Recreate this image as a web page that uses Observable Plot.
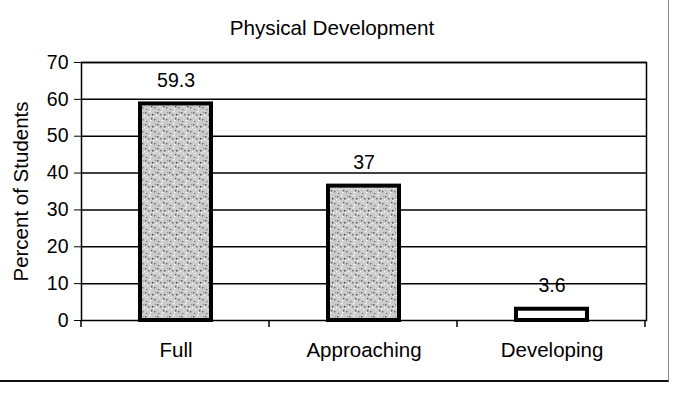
<!DOCTYPE html>
<html><head><meta charset="utf-8">
<script src="https://cdn.jsdelivr.net/npm/d3@7"></script>
<script src="https://cdn.jsdelivr.net/npm/@observablehq/plot@0.6"></script>
<style>
body{margin:0;background:#fff;font-family:"Liberation Sans",Arial,sans-serif;}
#wrap{position:relative;width:668px;height:380px;border-right:1px solid #888;border-bottom:2px solid #111;}
#title{height:50px;line-height:56px;text-align:center;font-size:20.7px;color:#000;padding-right:4px;}
#chart svg text{fill:#000;}
</style></head>
<body><div id="wrap"><div id="title">Physical Development</div><div id="chart"></div></div>
<script>
const categories = ["Full", "Approaching", "Developing"];
const values = [59.3, 37, 3.6];
const yTicks = [0, 10, 20, 30, 40, 50, 60, 70];
const data = categories.map((c, i) => ({category: c, value: values[i]}));

const plot = Plot.plot({
  width: 668, height: 330,
  marginTop: 12, marginBottom: 60, marginLeft: 81, marginRight: 22,
  style: {fontFamily: "'Liberation Sans', Arial, sans-serif", fontSize: "19px", color: "#000", background: "#fff"},
  x: {domain: categories, paddingInner: 0.6, paddingOuter: 0.3, label: null},
  y: {domain: [0, 70], ticks: yTicks, label: "Percent of Students"},
  marks: [
    Plot.ruleY(yTicks.filter(t => t > 0), {stroke: "#000", strokeWidth: 1.5}),
    Plot.barY(data, {x: "category", y: "value",
      fill: d => d.category === "Developing" ? "white" : "url(#stipple)",
      stroke: "#000", strokeWidth: 4, insetTop: 2, insetLeft: 2, insetRight: 2}),
    Plot.text(data, {x: "category", y: "value", text: d => String(d.value), dy: -21, fontSize: 19.5, fill: "#000"}),
    Plot.frame({stroke: "#000", strokeWidth: 1.5}),
    Plot.axisY({ticks: yTicks, tickSize: 7, tickFormat: () => "", label: "Percent of Students",
      labelAnchor: "center", labelOffset: 68, labelArrow: "none", fontSize: 20.5}),
    Plot.text(yTicks, {y: d => d, text: d => String(d), frameAnchor: "left", textAnchor: "end",
      dx: -13, fontSize: 19.5, fill: "#000"}),
    Plot.axisX({tickSize: 0, tickPadding: 22, fontSize: 20.5, label: null})
  ]
});

const svg = d3.select(plot);

// stipple pattern
const defs = svg.insert("defs", ":first-child");
const pat = defs.append("pattern").attr("id", "stipple").attr("patternUnits", "userSpaceOnUse")
  .attr("width", 12).attr("height", 12);
pat.append("rect").attr("width", 12).attr("height", 12).attr("fill", "#cbcbcb");
[[1,2,"#555"],[5,1,"#fff"],[8,4,"#444"],[3,7,"#f2f2f2"],[10,9,"#666"],[6,10,"#fff"],[2,11,"#777"],[9,6,"#f4f4f4"],[4,4,"#6a6a6a"],[11,2,"#999"],[7,8,"#555"],[0,5,"#fff"]]
  .forEach(([x, y, c]) => pat.append("rect").attr("x", x).attr("y", y).attr("width", 1.4).attr("height", 1.4).attr("fill", c));

// category boundary tick marks below the axis
const xs = plot.scale("x");
const ys = plot.scale("y");
const y0 = ys.apply(0);
const left = xs.range[0];
for (let k = 0; k <= categories.length; k++) {
  const xp = left + k * xs.step;
  svg.append("line").attr("x1", xp).attr("x2", xp).attr("y1", y0).attr("y2", y0 + 7)
    .attr("stroke", "#000").attr("stroke-width", 1.5);
}
document.getElementById("chart").appendChild(plot);
</script></body></html>
